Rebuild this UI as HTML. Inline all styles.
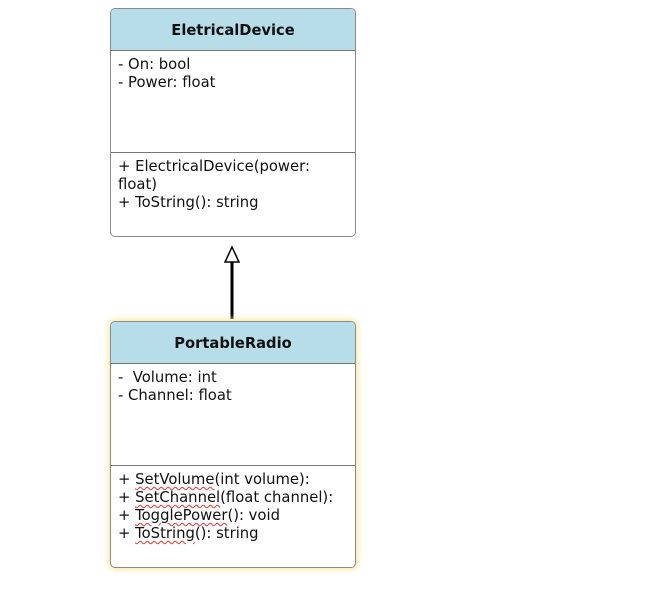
<!DOCTYPE html>
<html><head><style>
body{margin:0;width:668px;height:595px;background:#fff;position:relative;font-family:"DejaVu Sans","Liberation Sans",sans-serif;overflow:hidden}
.box{position:absolute;left:110px;width:244px;border:1px solid #8a8a8a;border-radius:5px;background:#fff;overflow:hidden}
.hd{background:#b6dde8;height:41px;border-bottom:1px solid #777;text-align:center;font-weight:bold;font-size:14.7px;line-height:43px;color:#111}
.sec{padding:5px 7px;font-size:14.8px;line-height:18px;color:#111;box-sizing:border-box}
.div{border-top:1px solid #777}
u{text-decoration:underline wavy #e33;text-decoration-thickness:1px;text-underline-offset:2px}
</style></head><body>
<div class="box" style="top:8px;height:227px">
<div class="hd">EletricalDevice</div>
<div class="sec" style="height:101px">- On: bool<br>- Power: float</div>
<div class="sec div">+ ElectricalDevice(power:<br>float)<br>+ ToString(): string</div>
</div>
<svg style="position:absolute;left:0;top:0" width="668" height="595">
<line x1="232" y1="262" x2="232" y2="319" stroke="#000" stroke-width="3"/>
<polygon points="232,247 225,262 239,262" fill="#fff" stroke="#000" stroke-width="1.5"/>
</svg>
<div class="box" style="top:321px;height:245px;box-shadow:0 0 6px 2px #fbe9a8">
<div class="hd">PortableRadio</div>
<div class="sec" style="height:101px">-&nbsp; Volume: int<br>- Channel: float</div>
<div class="sec div">+ <u>SetVolume</u>(int volume):<br>+ <u>SetChannel</u>(float channel):<br>+ <u>TogglePower</u>(): void<br>+ <u>ToString</u>(): string</div>
</div>
</body></html>
